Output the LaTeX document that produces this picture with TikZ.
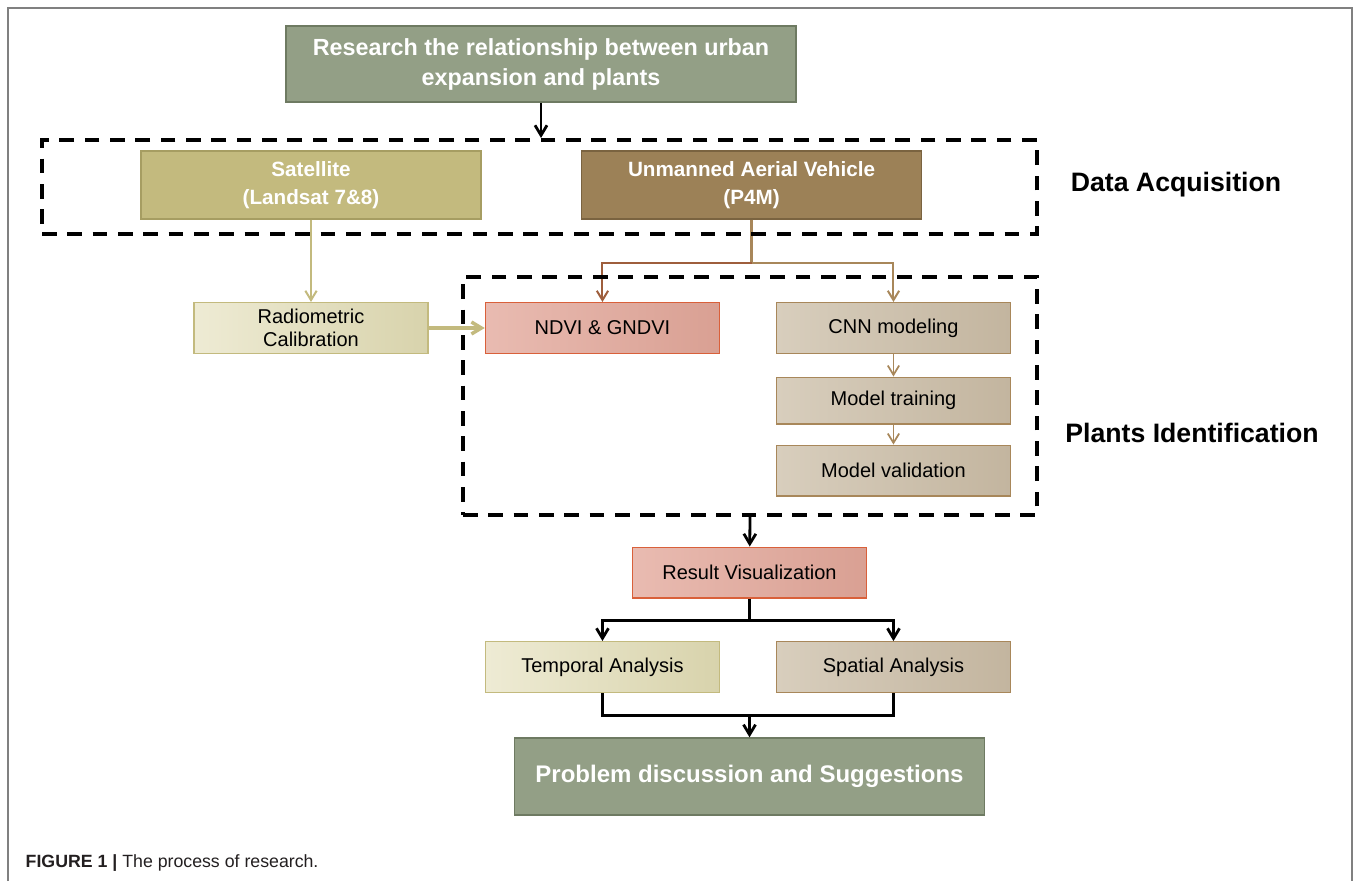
\documentclass[tikz,border=0pt]{standalone}
\usepackage{fontspec}
\setmainfont{Liberation Sans}
\usetikzlibrary{shapes,arrows,arrows.meta,positioning,calc,fit}
\definecolor{sagegreen}{HTML}{939F86}
\definecolor{sageedge}{HTML}{6E7A62}
\definecolor{khaki}{HTML}{C3BA7E}
\definecolor{khakiedge}{HTML}{A69D62}
\definecolor{umber}{HTML}{9C8157}
\definecolor{umberedge}{HTML}{7A6340}
\definecolor{paleA}{HTML}{EEEBD4}
\definecolor{paleB}{HTML}{D8D3AC}
\definecolor{pinkA}{HTML}{E9BBB1}
\definecolor{pinkB}{HTML}{D9A093}
\definecolor{pinkedge}{HTML}{D9603A}
\definecolor{tanA}{HTML}{D8CEBD}
\definecolor{tanB}{HTML}{C3B59F}
\definecolor{tanedge}{HTML}{A8875A}
\definecolor{brownarrow}{HTML}{9E5E3C}
\definecolor{framegray}{HTML}{808080}
\definecolor{captiongray}{HTML}{231F20}
\tikzstyle{goal} = [rectangle, draw=sageedge, line width=1pt, fill=sagegreen, text=white, align=center, minimum width=382.5pt, minimum height=57pt, font=\fontsize{17.5}{22.5}\selectfont\bfseries]
\tikzstyle{source} = [rectangle, draw, line width=1pt, text=white, align=center, minimum width=255pt, minimum height=51pt, font=\fontsize{15.5}{21}\selectfont\bfseries]
\tikzstyle{process} = [rectangle, line width=1pt, align=center, minimum width=175.5pt, minimum height=38pt, font=\fontsize{15}{17.5}\selectfont]
\tikzstyle{pale} = [process, draw=khaki, left color=paleA, right color=paleB]
\tikzstyle{rose} = [process, draw=pinkedge, left color=pinkA, right color=pinkB]
\tikzstyle{sand} = [process, draw=tanedge, left color=tanA, right color=tanB]
\tikzstyle{group} = [rectangle, draw, line width=3pt, dash pattern=on 11pt off 8pt, inner sep=0pt]
\tikzstyle{stage} = [font=\fontsize{20}{24}\selectfont\bfseries]
\tikzstyle{line} = [draw, line width=2.1pt, -{Straight Barb[length=7.5pt,width=9pt]}]
\tikzstyle{thin line} = [draw, line width=1.5pt, -{Straight Barb[length=7pt,width=8.5pt]}]
\begin{document}
\begin{tikzpicture}[x=0.75pt, y=-0.75pt]
	\useasboundingbox (0,0) rectangle (1358,881);
	\draw [framegray, line width=1.1pt] (8,881) |- (1352,8) -- (1352,881);
	%Place nodes
	\node [goal] (Research) at (541,64) {Research the relationship between urban\\expansion and plants};
	\node [source, fill=khaki, draw=khakiedge] (Satellite) at (311,185) {Satellite\\(Landsat 7\&8)};
	\node [source, fill=umber, draw=umberedge, right of=Satellite, node distance=330.4pt] (UAV) {Unmanned Aerial Vehicle\\(P4M)};
	\node [pale, below of=Satellite, node distance=107.25pt] (Calibration) {Radiometric\\Calibration};
	\node [rose, right of=Calibration, node distance=218.6pt] (NDVI) {NDVI \& GNDVI};
	\node [sand, right of=NDVI, node distance=218.25pt] (CNN) {CNN modeling};
	\node [sand, below of=CNN, node distance=54.4pt, minimum height=35pt] (Training) {Model training};
	\node [sand, below of=Training, node distance=52.5pt] (Validation) {Model validation};
	\node [rose] (Result) at (749.5,572.5) {Result Visualization};
	\node [pale, below of=NDVI, node distance=254.25pt] (Temporal) {Temporal Analysis};
	\node [sand, below of=Validation, node distance=147.4pt] (Spatial) {Spatial Analysis};
	\node [goal, below of=Result, node distance=153pt, minimum width=352.5pt, minimum height=57.75pt, font=\fontsize{18}{22}\selectfont\bfseries] (Problem) {Problem discussion and Suggestions};

	\coordinate (UAVsplit) at ($(UAV.south)+(0,43)$);
	\coordinate (ResultSplit) at ($(Result.south)+(0,22)$);
	\coordinate (Merge) at ($(Problem.north)+(0,-22)$);

	\path [thin line, draw=khaki] (Satellite) -- (Calibration);
	\path [line, draw=khaki, line width=2.6pt] (Calibration) -- (NDVI);
	\path [draw=tanedge, line width=1.6pt] (UAV) -- (UAVsplit);
	\path [thin line, draw=brownarrow] (UAVsplit) -| (NDVI);
	\path [thin line, draw=tanedge] (UAVsplit) -| (CNN);
	\path [thin line, draw=tanedge, line width=1.3pt] (CNN) -- (Training);
	\path [thin line, draw=tanedge, line width=1.3pt] (Training) -- (Validation);

	%Dashed groups
	\node [group, minimum width=746.25pt, minimum height=70.5pt] (Acquisition) at (539.5,187) {};
	\node [group, minimum width=430.5pt, minimum height=178.5pt] (Identification) at (750,396) {};
	\node [stage] (AcquisitionLabel) at (1176,185) {Data Acquisition};
	\node [stage] (IdentificationLabel) at (1192,433) {Plants Identification};

	\path [line] (Research) -- (Research |- Acquisition.north);
	\path [line] (Identification.south) -- (Result);
	\path [draw, line width=2.1pt] (Result) -- (ResultSplit);
	\path [line] (ResultSplit) -| (Temporal);
	\path [line] (ResultSplit) -| (Spatial);
	\path [draw, line width=2.1pt] (Temporal) |- (Merge) -| (Spatial);
	\path [line] (Merge) -- (Problem);

	\node [anchor=base west, text=captiongray, font=\fontsize{13.3}{15}\selectfont] (Caption) at (21,867) {\textbf{FIGURE 1 |} The process of research.};
\end{tikzpicture}
\end{document}
